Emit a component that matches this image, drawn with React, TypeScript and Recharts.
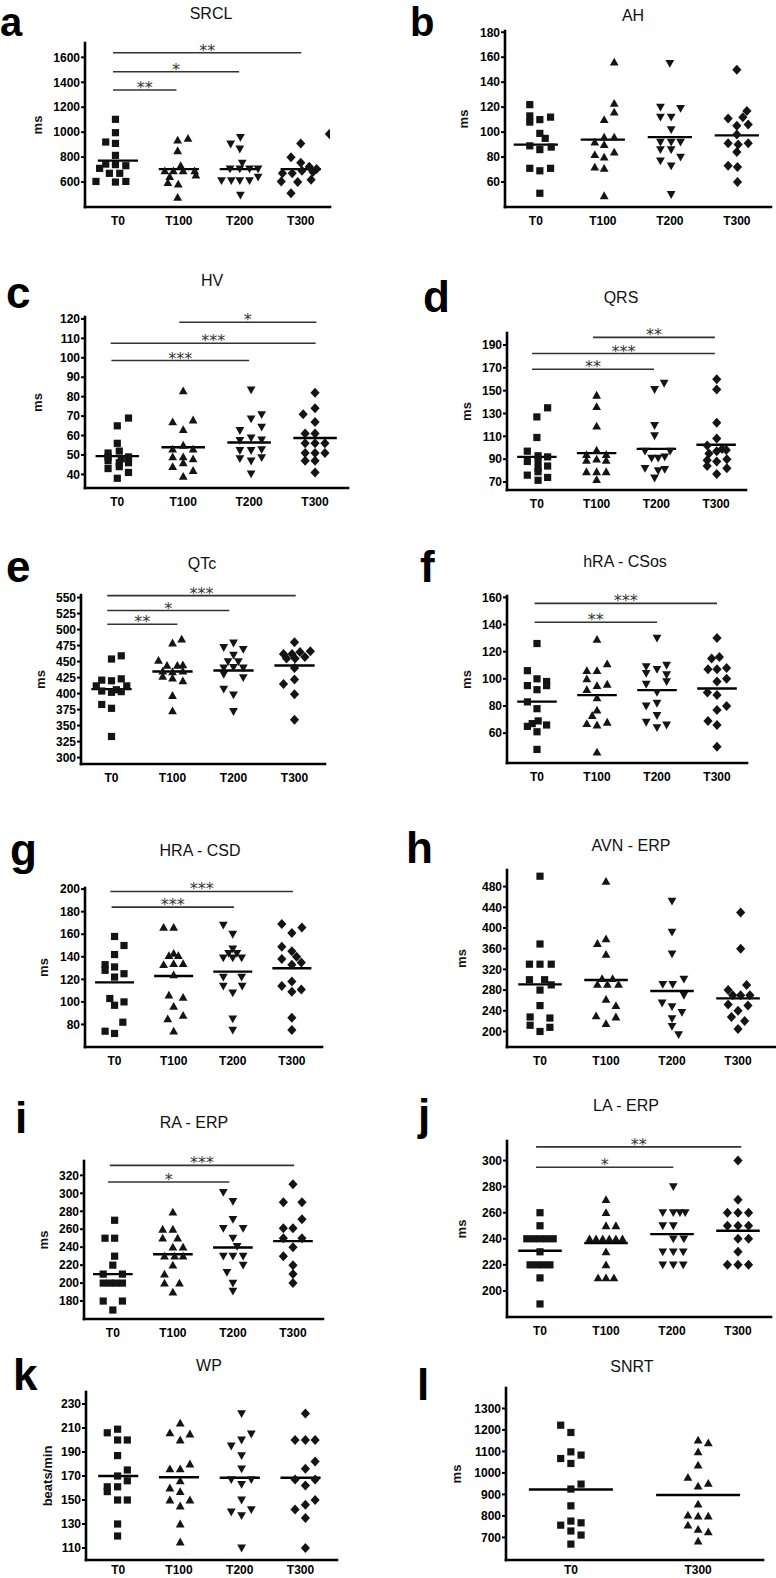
import React from 'react';
import { ScatterChart, Scatter, XAxis, YAxis, ReferenceLine } from 'recharts';

// ---------- categories ----------
const CATS4 = ['T0', 'T100', 'T200', 'T300'];
const CATS2 = ['T0', 'T300'];

// ---------- a: SRCL (points: [offset within group, value]) ----------
const SRCL_T0 = [[-0.04,1103],[-0.04,996],[-0.2,921],[-0.04,910],[-0.04,814],[-0.2,744],[0.13,731],[-0.04,740],[-0.3,710],[-0.14,670],[0.03,670],[-0.36,605],[-0.04,600],[0.13,605]];
const SRCL_T100 = [[-0.02,937],[0.15,950],[-0.02,851],[0.03,731],[-0.23,690],[-0.09,690],[0.07,690],[0.26,690],[-0.15,643],[0.28,655],[-0.18,595],[-0.01,584],[-0.02,477]];
const SRCL_T200 = [[-0.15,905],[0.01,958],[0,865],[0.04,752],[-0.16,705],[0,705],[0.16,705],[0.3,705],[-0.3,612],[-0.14,612],[0,612],[0.16,612],[0.3,640],[0.01,496]];
const SRCL_T300 = [[0.47,985],[0,910],[-0.16,798],[0,755],[0.14,722],[0.26,705],[-0.3,670],[-0.14,670],[0.02,690],[0.2,680],[-0.32,605],[-0.05,600],[0.17,618],[-0.16,510]];
const SRCL_MED = [772, 704, 704, 704];
const SRCL_TICKS = [600, 800, 1000, 1200, 1400, 1600];
const SRCL_SIG = [
  { x1: -0.08, x2: 3.01, y: 1637, label: '**' },
  { x1: -0.08, x2: 1.99, y: 1485, label: '*' },
  { x1: -0.08, x2: 0.96, y: 1338, label: '**' },
];

// ---------- b: AH ----------
const AH_T0 = [[-0.09,122],[-0.09,113],[-0.09,108],[0.06,110],[0.22,112],[0.06,99],[0.14,95],[-0.09,89],[0.23,88],[0.06,86],[-0.09,71],[0.06,69],[0.22,71],[0.06,51]];
const AH_T100 = [[0.17,156],[0.17,123],[0.02,110],[0.17,116],[0.02,96],[-0.12,92],[0.17,96],[0.02,90],[-0.12,82],[0.02,80],[0.17,84],[-0.12,72],[0.02,71],[0.02,49]];
const AH_T200 = [[0,155],[-0.14,120],[0.16,119],[-0.14,112],[0.02,112],[0.02,102],[-0.14,92],[0.02,92],[0.16,92],[-0.14,86],[0.02,86],[0.16,80],[-0.14,77],[0.02,73],[0.02,50]];
const AH_T300 = [[0,150],[0.15,117],[-0.13,111],[0.09,112],[0,105],[0.17,106],[-0.13,91],[0.17,91],[0.02,90],[0,98],[0,84],[-0.13,73],[0.01,72],[0.01,60]];
const AH_MED = [90, 94, 96, 97.4];
const AH_TICKS = [60, 80, 100, 120, 140, 160, 180];
const AH_SIG: any[] = [];

// ---------- c: HV ----------
const HV_T0 = [[0.17,69],[0,65],[0,56],[-0.14,51],[0.03,52],[0.17,49],[-0.14,47],[0.03,46],[0.17,46],[-0.14,43],[0.03,44],[0.17,41],[0,38],[-0.14,49],[0.06,48]];
const HV_T100 = [[0,83],[-0.16,67],[0.15,68],[0,63],[-0.16,53],[0,55],[0.15,53],[-0.16,49],[0,49],[0.15,48],[-0.16,44],[0,46],[0.15,42],[0,39]];
const HV_T200 = [[0.03,83.5],[0.03,68.6],[0.19,70.8],[0.19,64.3],[-0.14,62.6],[0.03,58.8],[-0.14,57.5],[0.19,57.8],[-0.14,52.3],[0.03,52.3],[0.19,52.7],[-0.14,48.1],[0.03,46.9],[0.19,48.6],[0.03,40.3]];
const HV_T300 = [[0,82],[0,74],[-0.18,71],[0,67],[-0.15,61],[0,61],[-0.15,56],[0,56],[0.15,56],[-0.15,51],[0,51],[0.15,51],[-0.15,47],[0,47],[0,41]];
const HV_MED = [49.4, 54, 56.4, 58.7];
const HV_TICKS = [40, 50, 60, 70, 80, 90, 100, 110, 120];
const HV_SIG = [
  { x1: 0.94, x2: 3.02, y: 118.3, label: '*' },
  { x1: -0.1, x2: 3.01, y: 107.5, label: '***' },
  { x1: -0.09, x2: 2.0, y: 98.6, label: '***' },
];

// ---------- d: QRS ----------
const QRS_T0 = [[0.18,135],[0,127],[0,109],[-0.16,97],[0.02,93],[0.18,92],[-0.16,88],[0.02,88],[0.02,82],[0.18,84],[-0.16,76],[0.02,79],[0.18,74],[0.02,71.5]];
const QRS_T100 = [[0,146],[0,136],[0,119],[0,98],[-0.17,94],[0.16,94],[0,90],[-0.17,89],[0.16,89],[-0.17,79],[0,79],[0.16,79],[0,72]];
const QRS_T200 = [[-0.03,151],[0.13,156.5],[-0.03,119.5],[-0.03,110.5],[-0.19,97],[-0.08,91],[0.03,91],[0.14,92],[0.23,97],[-0.19,82],[0.03,80],[0.14,81],[-0.03,73.5]];
const QRS_T300 = [[0.01,160],[0.01,151],[0.01,122],[0.01,108],[-0.15,102],[0.1,99],[-0.12,95],[0.17,98],[0.01,97],[-0.15,89],[0.18,90],[-0.15,84],[0.01,88],[0.18,82],[0.01,77]];
const QRS_MED = [92, 95.3, 99, 102.6];
const QRS_TICKS = [70, 90, 110, 130, 150, 170, 190];
const QRS_SIG = [
  { x1: 0.94, x2: 2.98, y: 196.7, label: '**' },
  { x1: -0.08, x2: 2.98, y: 182.5, label: '***' },
  { x1: -0.08, x2: 1.96, y: 168.8, label: '**' },
];

// ---------- e: QTc ----------
const QTC_T0 = [[0.16,459],[0,454],[-0.16,421],[0,420],[0.16,423],[-0.25,412],[0.25,412],[-0.16,404],[0,402],[0.16,403],[0.08,406],[-0.16,383],[0,377],[0,333]];
const QTC_T100 = [[0.15,485],[0,479],[-0.23,452],[-0.09,444],[0.08,444],[0.17,445],[-0.16,435],[0,434],[0.17,435],[-0.16,427],[0,424],[0.17,420],[0,397],[0,373]];
const QTC_T200 = [[-0.16,472],[0,479],[0.16,469],[0,460],[-0.09,450],[0.08,450],[-0.16,440],[0,441],[0.16,440],[-0.16,430],[0.16,425],[-0.16,407],[0,398],[0,372]];
const QTC_T300 = [[0,480],[-0.18,462],[-0.04,462],[0.09,465],[0.26,466],[-0.13,455],[0.01,455],[0.17,457],[0,440],[0,422],[-0.18,415],[0,399],[0,359]];
const QTC_MED = [407, 434.4, 436, 443.8];
const QTC_TICKS = [300, 325, 350, 375, 400, 425, 450, 475, 500, 525, 550];
const QTC_SIG = [
  { x1: -0.07, x2: 3.02, y: 553, label: '***' },
  { x1: -0.07, x2: 1.93, y: 529.7, label: '*' },
  { x1: -0.07, x2: 1.08, y: 508.3, label: '**' },
];

// ---------- f: hRA - CSos ----------
const CSOS_T0 = [[0,126],[-0.16,106],[0,100],[0.16,98],[-0.16,95],[0.16,95],[0,92],[-0.16,83],[0,78],[0.02,69],[-0.16,65],[0.16,66],[-0.08,67],[0,61],[0,48]];
const CSOS_T100 = [[0,129],[0.17,111],[-0.17,106],[0,106],[-0.17,100],[-0.17,92],[0,95],[0.17,96],[0,86],[0,77],[-0.08,73],[-0.17,67],[0,66],[0.17,68],[0,46]];
const CSOS_T200 = [[0,130],[-0.18,109],[0,107],[0.16,110],[-0.18,104],[0.16,103],[-0.18,96],[0.16,98],[0,90],[-0.18,80],[0,82],[0,73],[-0.18,68],[0.16,66],[0,64]];
const CSOS_T300 = [[0,130],[-0.09,115],[0.04,116],[-0.15,107],[0,107],[0.16,108],[0,98],[0.16,100],[-0.16,90],[0,88],[0.16,80],[0,77],[-0.15,69],[0,66],[0,50]];
const CSOS_MED = [83.2, 88, 91.7, 92.9];
const CSOS_TICKS = [60, 80, 100, 120, 140, 160];
const CSOS_SIG = [
  { x1: -0.04, x2: 3.0, y: 155.6, label: '***' },
  { x1: -0.04, x2: 2.0, y: 141.7, label: '**' },
];

// ---------- g: HRA - CSD ----------
const CSD_T0 = [[0,158],[0.16,150],[0,142],[-0.16,133],[-0.16,128],[0,131],[0,122],[0.16,125],[-0.08,103],[0.16,100],[0,97],[0.14,82],[-0.16,74],[0,72]];
const CSD_T100 = [[-0.17,166],[0,166],[0,143],[-0.08,141],[0.08,141],[-0.17,133],[0,134],[0.16,134],[0,124],[-0.08,106],[0.16,104],[0,96],[0.16,88],[-0.1,85],[0,74]];
const CSD_T200 = [[-0.16,168],[0,160],[0,147],[-0.07,143],[0.07,143],[-0.16,139],[0,139],[0.15,139],[-0.16,122],[0.15,122],[-0.16,114],[0.16,114],[0,108],[0,85],[0,75]];
const CSD_T300 = [[-0.17,169],[0.17,166],[0,161],[-0.17,149],[0,145],[-0.17,138],[0.08,140],[0.16,135],[0,133],[0,118],[-0.17,114],[0.16,111],[0,109],[0,86],[0,75]];
const CSD_MED = [117.3, 123, 126.8, 129.8];
const CSD_TICKS = [80, 100, 120, 140, 160, 180, 200];
const CSD_SIG = [
  { x1: -0.07, x2: 3.02, y: 197.9, label: '***' },
  { x1: -0.05, x2: 2.02, y: 184, label: '***' },
];

// ---------- h: AVN - ERP ----------
const AVN_T0 = [[0,500],[0,369],[-0.16,330],[0,330],[0.17,330],[-0.16,300],[0.07,300],[0,280],[0.17,290],[0,250],[-0.15,228],[0.15,226],[-0.15,212],[0,200],[0.15,208]];
const AVN_T100 = [[0,490],[0,379],[-0.13,370],[0,349],[-0.06,302],[0.1,302],[-0.13,291],[0.02,291],[0.19,291],[0,262],[0.15,250],[-0.15,230],[0.15,228],[0,215]];
const AVN_T200 = [[0,452],[0,392],[0,350],[-0.14,291],[0.01,291],[0.18,301],[0.18,270],[-0.15,255],[0,248],[0.15,237],[0,225],[0,210],[0.1,194]];
const AVN_T300 = [[0.04,430],[0.04,360],[-0.15,280],[0.13,290],[-0.08,270],[0.04,270],[0.18,270],[-0.15,252],[0.15,250],[0,240],[-0.1,228],[0.1,220],[0,205]];
const AVN_MED = [291, 299.4, 278.1, 263.9];
const AVN_TICKS = [200, 240, 280, 320, 360, 400, 440, 480];
const AVN_SIG: any[] = [];

// ---------- i: RA - ERP ----------
const RA_T0 = [[0.03,270],[-0.13,250],[0.03,250],[0.03,230],[0,220],[-0.16,210],[0.16,210],[-0.16,200],[-0.05,200],[0.05,200],[0.16,200],[-0.16,180],[0.16,180],[0,170]];
const RA_T100 = [[0,279],[-0.17,260],[0,260],[-0.17,250],[0.08,250],[0,240],[0.17,240],[-0.14,230],[0.03,230],[0.17,230],[0,220],[-0.14,210],[-0.14,200],[0.11,200],[0,190]];
const RA_T200 = [[-0.16,301],[0,291],[0,271],[-0.16,261],[0.17,261],[0,250],[0.07,241],[-0.16,230],[0,230],[0.17,230],[0.17,220],[-0.1,212],[0,200],[0,191]];
const RA_T300 = [[0,310],[-0.16,290],[0.15,290],[0.15,271],[-0.16,261],[0,261],[-0.16,250],[0.15,250],[0,240],[-0.16,230],[0,220],[0,210],[0,200]];
const RA_MED = [210, 232.2, 239.6, 246.7];
const RA_TICKS = [180, 200, 220, 240, 260, 280, 300, 320];
const RA_SIG = [
  { x1: -0.05, x2: 3.02, y: 331.1, label: '***' },
  { x1: -0.08, x2: 1.94, y: 312.6, label: '*' },
];

// ---------- j: LA - ERP ----------
const LA_T0 = [[0,260],[0,250],[-0.2,240],[-0.1,240],[0,240],[0.1,240],[0.2,240],[0,230],[-0.15,220],[-0.05,220],[0.05,220],[0.15,220],[0,210],[0,190]];
const LA_T100 = [[0,270],[0,260],[0,250],[0.15,250],[-0.25,240],[-0.15,240],[-0.05,240],[0.05,240],[0.15,240],[0.25,240],[0,230],[0,220],[-0.12,210],[0,210],[0.12,210]];
const LA_T200 = [[0.02,280],[-0.14,260],[0.02,260],[0.12,260],[0.2,260],[-0.14,250],[0.02,250],[0.02,240],[0.18,240],[-0.14,230],[0.02,230],[0.17,230],[-0.14,220],[0.02,220],[0.17,220]];
const LA_T300 = [[0,300],[0,270],[-0.16,260],[0,260],[0.16,260],[-0.16,250],[0,250],[0.16,250],[0,240],[0.16,240],[0,230],[-0.16,220],[0,220],[0.16,220]];
const LA_MED = [230.8, 236.7, 243.6, 246.2];
const LA_TICKS = [200, 220, 240, 260, 280, 300];
const LA_SIG = [
  { x1: -0.06, x2: 3.05, y: 310.5, label: '**' },
  { x1: -0.06, x2: 2.02, y: 294.9, label: '*' },
];

// ---------- k: WP ----------
const WP_T0 = [[-0.18,206],[-0.01,209],[-0.01,200],[0.15,200],[-0.01,187],[0.15,175],[-0.01,170],[-0.18,161],[-0.18,157],[-0.01,161],[0.15,166],[-0.01,150],[0.15,150],[-0.01,130],[-0.01,120]];
const WP_T100 = [[0.02,214],[-0.15,206],[0.18,205],[0.02,200],[0.18,180],[-0.15,176],[0.02,176],[0.02,166],[-0.15,160],[0.02,157],[-0.15,150],[0.18,150],[0.02,145],[0.02,130],[0.02,115]];
const WP_T200 = [[0.03,222],[0.19,205],[0.03,200],[-0.14,195],[0.03,187],[0.03,176],[-0.14,167],[0.19,167],[0.03,163],[0.03,150],[-0.14,140],[0.19,142],[0.03,137],[0.03,110]];
const WP_T300 = [[0.08,222],[-0.09,200],[0.08,200],[0.24,200],[0.24,182],[0.08,176],[-0.09,167],[0.24,167],[0.08,162],[0.24,150],[0.08,146],[-0.09,142],[0.08,135],[0.08,110]];
const WP_MED = [170, 168.9, 168.6, 168.6];
const WP_TICKS = [110, 130, 150, 170, 190, 210, 230];
const WP_SIG: any[] = [];

// ---------- l: SNRT ----------
const SNRT_T0 = [[-0.08,1222],[0,1188],[-0.08,1067],[0,1098],[0.08,1083],[0,1044],[0.08,948],[0,925],[0,847],[-0.08,757],[0,776],[0.08,768],[0,730],[0.08,711],[0,669]];
const SNRT_T300 = [[0,1153],[0.08,1140],[0,1098],[0,1036],[-0.08,979],[0,939],[0.08,951],[0,855],[-0.08,804],[0,799],[0.08,799],[-0.08,757],[0,737],[0.08,726],[0,683]];
const SNRT_MED = [923, 897];
const SNRT_TICKS = [700, 800, 900, 1000, 1100, 1200, 1300];
const SNRT_SIG: any[] = [];

// ---------- panel table (layout separate from data) ----------
const SH4 = ['square', 'up', 'down', 'diamond'];
const PANELS = [
  { letter: 'a', title: 'SRCL', yl: 'ms', cats: CATS4, groups: [SRCL_T0, SRCL_T100, SRCL_T200, SRCL_T300], shapes: SH4, meds: SRCL_MED, ticks: SRCL_TICKS, sigs: SRCL_SIG,
    L: 85, R: 330, T: 43, B: 207, xDom: [-0.54, 3.48], yDom: [400, 1715], lx: 0, ly: 36.3, lfs: 40, tx: 211, ty: 18.5, ylx: 41.7, gap: 9 },
  { letter: 'b', title: 'AH', yl: 'ms', cats: CATS4, groups: [AH_T0, AH_T100, AH_T200, AH_T300], shapes: SH4, meds: AH_MED, ticks: AH_TICKS, sigs: AH_SIG,
    L: 505, R: 771, T: 31, B: 207, xDom: [-0.46, 3.51], yDom: [40, 181], lx: 410, ly: 36.3, lfs: 40, tx: 633, ty: 20.7, ylx: 468, gap: 9 },
  { letter: 'c', title: 'HV', yl: 'ms', cats: CATS4, groups: [HV_T0, HV_T100, HV_T200, HV_T300], shapes: SH4, meds: HV_MED, ticks: HV_TICKS, sigs: HV_SIG,
    L: 85, R: 348, T: 317, B: 488, xDom: [-0.49, 3.5], yDom: [33, 121], lx: 6, ly: 308, lfs: 44, tx: 212, ty: 286, ylx: 41.7, gap: 9 },
  { letter: 'd', title: 'QRS', yl: 'ms', cats: CATS4, groups: [QRS_T0, QRS_T100, QRS_T200, QRS_T300], shapes: SH4, meds: QRS_MED, ticks: QRS_TICKS, sigs: QRS_SIG,
    L: 507, R: 746, T: 333, B: 490, xDom: [-0.5, 3.5], yDom: [63, 200.5], lx: 423, ly: 312, lfs: 44, tx: 621, ty: 302.5, ylx: 471.4, gap: 9 },
  { letter: 'e', title: 'QTc', yl: 'ms', cats: CATS4, groups: [QTC_T0, QTC_T100, QTC_T200, QTC_T300], shapes: SH4, meds: QTC_MED, ticks: QTC_TICKS, sigs: QTC_SIG,
    L: 81, R: 325, T: 595, B: 764, xDom: [-0.5, 3.5], yDom: [290, 554], lx: 6, ly: 582, lfs: 44, tx: 202, ty: 569, ylx: 45, gap: 9 },
  { letter: 'f', title: 'hRA - CSos', yl: 'ms', cats: CATS4, groups: [CSOS_T0, CSOS_T100, CSOS_T200, CSOS_T300], shapes: SH4, meds: CSOS_MED, ticks: CSOS_TICKS, sigs: CSOS_SIG,
    L: 507, R: 747, T: 596, B: 763, xDom: [-0.5, 3.5], yDom: [38, 161], lx: 420, ly: 582, lfs: 44, tx: 625, ty: 566.5, ylx: 471.4, gap: 9 },
  { letter: 'g', title: 'HRA - CSD', yl: 'ms', cats: CATS4, groups: [CSD_T0, CSD_T100, CSD_T200, CSD_T300], shapes: SH4, meds: CSD_MED, ticks: CSD_TICKS, sigs: CSD_SIG,
    L: 85, R: 322, T: 888, B: 1047, xDom: [-0.5, 3.51], yDom: [60, 201], lx: 10, ly: 865, lfs: 44, tx: 200, ty: 855.5, ylx: 48.4, gap: 9 },
  { letter: 'h', title: 'AVN - ERP', yl: 'ms', cats: CATS4, groups: [AVN_T0, AVN_T100, AVN_T200, AVN_T300], shapes: SH4, meds: AVN_MED, ticks: AVN_TICKS, sigs: AVN_SIG,
    L: 507, R: 775, T: 870, B: 1047, xDom: [-0.5, 3.56], yDom: [170, 512], lx: 406, ly: 863, lfs: 44, tx: 631, ty: 851, ylx: 466.4, gap: 9 },
  { letter: 'i', title: 'RA - ERP', yl: 'ms', cats: CATS4, groups: [RA_T0, RA_T100, RA_T200, RA_T300], shapes: SH4, meds: RA_MED, ticks: RA_TICKS, sigs: RA_SIG,
    L: 84, R: 323, T: 1161, B: 1319, xDom: [-0.48, 3.5], yDom: [160, 336], lx: 15, ly: 1133, lfs: 44, tx: 194, ty: 1128, ylx: 48.4, gap: 9 },
  { letter: 'j', title: 'LA - ERP', yl: 'ms', cats: CATS4, groups: [LA_T0, LA_T100, LA_T200, LA_T300], shapes: SH4, meds: LA_MED, ticks: LA_TICKS, sigs: LA_SIG,
    L: 507, R: 771, T: 1141, B: 1317, xDom: [-0.5, 3.5], yDom: [180, 315], lx: 418, ly: 1130, lfs: 44, tx: 626, ty: 1111, ylx: 466.4, gap: 9 },
  { letter: 'k', title: 'WP', yl: 'beats/min', cats: CATS4, groups: [WP_T0, WP_T100, WP_T200, WP_T300], shapes: SH4, meds: WP_MED, ticks: WP_TICKS, sigs: WP_SIG,
    L: 86, R: 337, T: 1392, B: 1560, xDom: [-0.53, 3.6], yDom: [100, 240], lx: 13, ly: 1390, lfs: 44, tx: 209, ty: 1370.5, ylx: 52, gap: 5 },
  { letter: 'l', title: 'SNRT', yl: 'ms', cats: CATS2, groups: [SNRT_T0, SNRT_T300], shapes: ['square', 'up'], meds: SNRT_MED, ticks: SNRT_TICKS, sigs: SNRT_SIG,
    L: 506, R: 763, T: 1388, B: 1560, xDom: [-0.51, 1.51], yDom: [595, 1395], lx: 417, ly: 1400, lfs: 44, tx: 632, ty: 1372, ylx: 461.4, gap: 5 },
];

const INK = '#141414';
const FONT = '"Liberation Sans", Arial, Helvetica, sans-serif';

function makeShape(kind: string) {
  return (props: any) => {
    const { cx, cy } = props;
    if (cx == null || cy == null || isNaN(cx) || isNaN(cy)) return <g />;
    if (kind === 'square') {
      return <rect x={cx - 3.6} y={cy - 3.6} width={7.2} height={7.2} fill={INK} />;
    }
    if (kind === 'up') {
      return <path d={`M${cx},${cy - 4.4}L${cx + 4.4},${cy + 3.4}L${cx - 4.4},${cy + 3.4}Z`} fill={INK} />;
    }
    if (kind === 'down') {
      return <path d={`M${cx},${cy + 4.4}L${cx + 4.4},${cy - 3.4}L${cx - 4.4},${cy - 3.4}Z`} fill={INK} />;
    }
    return <path d={`M${cx},${cy - 5}L${cx + 4.6},${cy}L${cx},${cy + 5}L${cx - 4.6},${cy}Z`} fill={INK} />;
  };
}

const ML = 60;
const MT = 14;
const MR = 8;
const XH = 26;

function Panel({ p }: { p: any }) {
  const width = p.R - p.L + ML + MR;
  const height = p.B - p.T + MT + XH;
  const tickIdx = p.cats.map((_: string, i: number) => i);
  return (
    <div style={{ position: 'absolute', left: p.L - ML, top: p.T - MT }}>
      <ScatterChart width={width} height={height} margin={{ top: MT, right: MR, bottom: 0, left: 0 }}>
        <XAxis
          type="number"
          dataKey="x"
          domain={p.xDom}
          ticks={tickIdx}
          interval={0}
          allowDataOverflow
          tickFormatter={(v: number) => p.cats[Math.round(v)]}
          axisLine={{ stroke: '#000', strokeWidth: 2.6, strokeLinecap: 'square' }}
          tickLine={false}
          tickSize={p.gap - 3}
          tickMargin={3}
          height={XH}
          tick={{ fill: '#000', fontSize: 12, fontWeight: 'bold', fontFamily: FONT }}
        />
        <YAxis
          type="number"
          dataKey="y"
          domain={p.yDom}
          ticks={p.ticks}
          interval={0}
          allowDataOverflow
          width={ML}
          axisLine={{ stroke: '#000', strokeWidth: 2.6, strokeLinecap: 'square' }}
          tickLine={{ stroke: '#000', strokeWidth: 2 }}
          tickSize={4}
          tickMargin={1}
          tick={{ fill: '#000', fontSize: 12, fontWeight: 'bold', fontFamily: FONT }}
        />
        {p.sigs.map((s: any, i: number) => (
          <ReferenceLine
            key={'sig' + i}
            segment={[{ x: s.x1, y: s.y }, { x: s.x2, y: s.y }]}
            stroke="#333"
            strokeWidth={1.6}
            ifOverflow="visible"
            label={{ value: s.label, position: 'top', offset: -3, fill: '#333', fontSize: 16, fontFamily: 'DejaVu Sans' }}
          />
        ))}
        {p.meds.map((m: number, i: number) => (
          <ReferenceLine
            key={'med' + i}
            segment={[{ x: i - 0.33, y: m }, { x: i + 0.33, y: m }]}
            stroke="#000"
            strokeWidth={2.4}
            ifOverflow="visible"
          />
        ))}
        {p.groups.map((g: number[][], gi: number) => (
          <Scatter
            key={'g' + gi}
            data={g.map(([o, v]) => ({ x: gi + o, y: v }))}
            shape={makeShape(p.shapes[gi])}
            fill={INK}
            isAnimationActive={false}
          />
        ))}
      </ScatterChart>
    </div>
  );
}

export default function App() {
  return (
    <div style={{ position: 'absolute', left: 0, top: 0, width: 776, height: 1578, background: '#fff', overflow: 'hidden', fontFamily: FONT }}>
      <svg width={776} height={1578} style={{ position: 'absolute', left: 0, top: 0 }}>
        {PANELS.map((p) => (
          <g key={p.letter}>
            <text x={p.lx} y={p.ly} fontSize={p.lfs} fontWeight="bold" fill="#000" fontFamily={FONT}>{p.letter}</text>
            <text x={p.tx} y={p.ty} fontSize={16} textAnchor="middle" fill="#111" fontFamily={FONT}>{p.title}</text>
            <text
              transform={`translate(${p.ylx},${(p.T + p.B) / 2}) rotate(-90)`}
              textAnchor="middle"
              fontSize={13}
              fontWeight="bold"
              fill="#111"
              fontFamily={FONT}
            >
              {p.yl}
            </text>
          </g>
        ))}
      </svg>
      {PANELS.map((p) => (
        <Panel key={p.letter} p={p} />
      ))}
    </div>
  );
}
